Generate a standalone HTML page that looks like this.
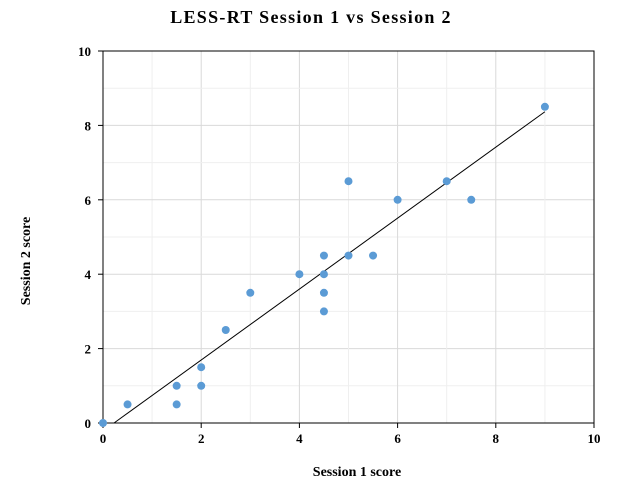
<!DOCTYPE html>
<html><head><meta charset="utf-8"><style>
body{margin:0;background:#fff;}
svg{display:block;font-family:"Liberation Serif",serif;}
</style></head><body>
<svg id="chart" width="617" height="488">
<text x="311" y="23" text-anchor="middle" font-size="18" font-weight="bold" letter-spacing="1.3">LESS-RT Session 1 vs Session 2</text>
<text x="357" y="476" text-anchor="middle" font-size="14" font-weight="bold">Session 1 score</text>
<text transform="translate(30,261) rotate(-90)" text-anchor="middle" font-size="14" font-weight="bold">Session 2 score</text>
<g id="grid"></g><g id="axes"></g><g id="marks"></g>
</svg>
<script>
const xValues=[0,0.5,1.5,1.5,2,2,2.5,3,4,4.5,4.5,4.5,4.5,5,5,5.5,6,7,7.5,9];
const yValues=[0,0.5,1,0.5,1.5,1,2.5,3.5,4,4.5,4,3.5,3,6.5,4.5,4.5,6,6.5,6,8.5];
const xTicks=[0,2,4,6,8,10];
const yTicks=[0,2,4,6,8,10];
const L=103,R=594,T=51,B=423;
const sx=v=>L+(v-0)/10*(R-L), sy=v=>B-(v-0)/10*(B-T);
const NS="http://www.w3.org/2000/svg";
function mk(tag,attrs,parent){const e=document.createElementNS(NS,tag);for(const k in attrs)e.setAttribute(k,attrs[k]);document.getElementById(parent).appendChild(e);return e;}
for(let i=1;i<10;i++){
 const c=i%2?"#efefef":"#d9d9d9";
 let g=mk("line",{x1:sx(i),x2:sx(i),y1:T,y2:B,stroke:c},"grid");
 
 
 g=mk("line",{x1:L,x2:R,y1:sy(i),y2:sy(i),stroke:c},"grid");
 
 
}
let b=mk("rect",{x:L,y:T,width:R-L,height:B-T,fill:"none",stroke:"#000","stroke-width":1},"axes");


xTicks.forEach(v=>{
 const t=mk("text",{x:sx(v),y:B+20,"text-anchor":"middle","font-size":"13","font-weight":"bold"},"axes");t.textContent=v;
 
 
 mk("line",{x1:sx(v),x2:sx(v),y1:B,y2:B+5,stroke:"#000"},"axes");
});
yTicks.forEach(v=>{
 const t=mk("text",{x:L-12,y:sy(v)+5,"text-anchor":"end","font-size":"13","font-weight":"bold"},"axes");t.textContent=v;
 
 
 mk("line",{x1:L-5,x2:L,y1:sy(v),y2:sy(v),stroke:"#000"},"axes");
});
const n=xValues.length;const mx=xValues.reduce((a,b)=>a+b)/n,my=yValues.reduce((a,b)=>a+b)/n;
let sxy=0,sxx=0;for(let i=0;i<n;i++){sxy+=(xValues[i]-mx)*(yValues[i]-my);sxx+=(xValues[i]-mx)**2;}
const m=sxy/sxx,c0=my-m*mx;const x0=Math.max(0,-c0/m),x1=Math.max(...xValues);
const tl=mk("line",{x1:sx(x0),y1:sy(m*x0+c0),x2:sx(x1),y2:sy(m*x1+c0),stroke:"#000","stroke-width":1},"marks");


xValues.forEach((x,i)=>{
 const p=mk("circle",{cx:sx(x),cy:sy(yValues[i]),r:4,fill:"#5b9bd5"},"marks");
 
 
});
</script>
</body></html>
